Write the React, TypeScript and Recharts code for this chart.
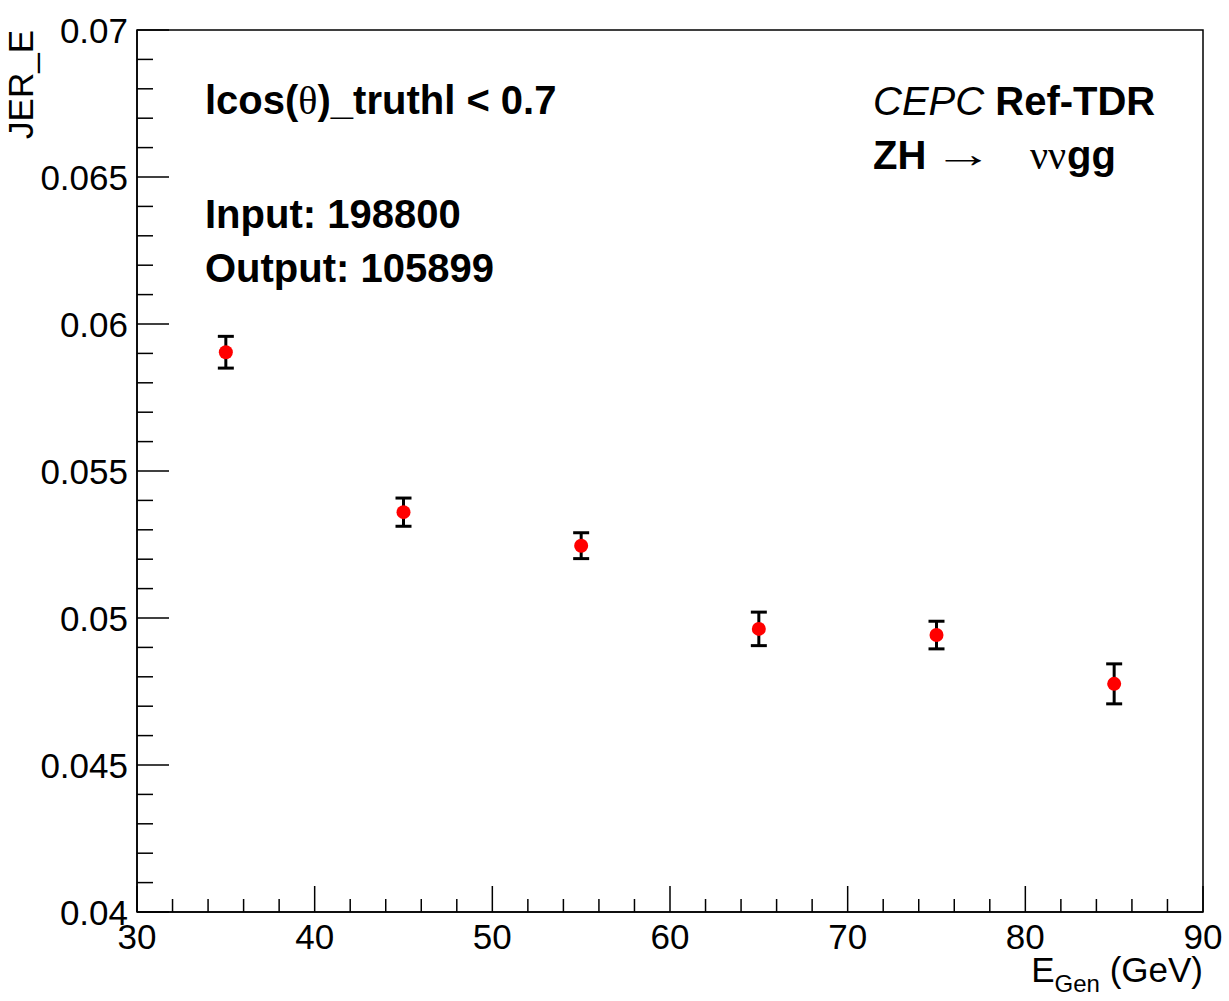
import React from "react";
import { ScatterChart, Scatter, XAxis, YAxis, ErrorBar, ReferenceArea } from "recharts";

// ---- data ----
const energies = [35, 45, 55, 65, 75, 85];
const jerValues = [0.05904, 0.0536, 0.05246, 0.04963, 0.04942, 0.04776];
const jerErrors = [0.00054, 0.00048, 0.00044, 0.00057, 0.00047, 0.00068];

const xMajorTicks = [30, 40, 50, 60, 70, 80, 90];
const xMinorTicks = [32, 34, 36, 38, 42, 44, 46, 48, 52, 54, 56, 58, 62, 64, 66, 68, 72, 74, 76, 78, 82, 84, 86, 88];
const yMajorTicks = [0.04, 0.045, 0.05, 0.055, 0.06, 0.065, 0.07];
const yMinorTicks = [
  0.041, 0.042, 0.043, 0.044, 0.046, 0.047, 0.048, 0.049, 0.051, 0.052, 0.053, 0.054,
  0.056, 0.057, 0.058, 0.059, 0.061, 0.062, 0.063, 0.064, 0.066, 0.067, 0.068, 0.069,
];

const data = energies.map((e, i) => ({ x: e, y: jerValues[i], err: jerErrors[i] }));

const W = 1229;
const H = 1001;
const FONT = "'Liberation Sans', Arial, Helvetica, sans-serif";
const SERIF = "'Liberation Serif', 'Times New Roman', serif";

const isIn = (arr: number[], v: number) => arr.some((a) => Math.abs(a - v) < 1e-9);
const fmtY = (v: number) => String(Number(v.toFixed(3)));

const Y_MARGIN = 9;
const YTick = (props: any) => {
  const { x, y, payload } = props;
  const axisX = x + Y_MARGIN;
  const major = isIn(yMajorTicks, payload.value);
  return (
    <g>
      <line x1={axisX} x2={axisX + (major ? 32 : 16)} y1={y} y2={y} stroke="#000" strokeWidth={1.5} />
      {major && (
        <text x={x} y={y} textAnchor="end" dominantBaseline="central" fontFamily={FONT} fontSize={35} fill="#000">
          {fmtY(payload.value)}
        </text>
      )}
    </g>
  );
};

const XTick = (props: any) => {
  const { x, y, payload } = props;
  const axisY = y;
  const major = isIn(xMajorTicks, payload.value);
  return (
    <g>
      <line x1={x} x2={x} y1={axisY} y2={axisY - (major ? 26 : 13)} stroke="#000" strokeWidth={1.5} />
      {major && (
        <text x={x} y={axisY + 37} textAnchor="middle" fontFamily={FONT} fontSize={35} fill="#000">
          {payload.value}
        </text>
      )}
    </g>
  );
};

const Dot = (props: any) => {
  const { cx, cy } = props;
  return <circle cx={cx} cy={cy} r={7} fill="#ff0000" />;
};

const ANN = 40;

export default function App() {
  return (
    <div style={{ position: "absolute", left: 0, top: 0, width: W, height: H, background: "#fff" }}>
      <ScatterChart width={W} height={H} margin={{ top: 30, right: 26, left: 0, bottom: 0 }}>
        <XAxis
          type="number"
          dataKey="x"
          domain={[30, 90]}
          ticks={[...xMajorTicks, ...xMinorTicks].sort((a, b) => a - b)}
          interval={0}
          tickSize={0}
          tickMargin={0}
          tick={<XTick />}
          height={89}
          axisLine={{ stroke: "#000", strokeWidth: 1.5 }}
          allowDataOverflow
        />
        <YAxis
          type="number"
          dataKey="y"
          domain={[0.04, 0.07]}
          ticks={[...yMajorTicks, ...yMinorTicks].sort((a, b) => a - b)}
          interval={0}
          tickSize={0}
          tickMargin={Y_MARGIN}
          tick={<YTick />}
          width={137}
          axisLine={{ stroke: "#000", strokeWidth: 1.5 }}
          allowDataOverflow
        />
        <ReferenceArea x1={30} x2={90} y1={0.04} y2={0.07} fill="none" stroke="#000" strokeWidth={1.5} />
        <Scatter data={data} shape={<Dot />} isAnimationActive={false}>
          <ErrorBar dataKey="err" direction="y" width={8} stroke="#000" strokeWidth={3} isAnimationActive={false} />
        </Scatter>
      </ScatterChart>
      <svg width={W} height={H} style={{ position: "absolute", left: 0, top: 0, pointerEvents: "none" }}>
        {/* Y title */}
        <text
          transform="translate(33,30) rotate(-90)"
          textAnchor="end"
          fontFamily={FONT}
          fontSize={35}
          fill="#000"
        >
          JER_E
        </text>
        {/* X title */}
        <text x={1203} y={982} textAnchor="end" fontFamily={FONT} fontSize={35} fill="#000">
          E<tspan fontSize={24} dy={10}>Gen</tspan>
          <tspan dy={-10}> (GeV)</tspan>
        </text>
        {/* left annotations */}
        <text x={205} y={114} fontFamily={FONT} fontSize={ANN} fontWeight="bold" fill="#000">
          lcos(<tspan fontFamily={SERIF} fontWeight="normal">θ</tspan>)_truthl &lt; 0.7
        </text>
        <text x={205} y={228} fontFamily={FONT} fontSize={ANN} fontWeight="bold" fill="#000">
          Input: 198800
        </text>
        <text x={205} y={282} fontFamily={FONT} fontSize={ANN} fontWeight="bold" fill="#000">
          Output: 105899
        </text>
        {/* right annotations */}
        <text x={873} y={115} fontFamily={FONT} fontSize={ANN} fill="#000">
          <tspan fontStyle="italic">CEPC</tspan>
          <tspan fontWeight="bold"> Ref-TDR</tspan>
        </text>
        <text x={873} y={169} fontFamily={FONT} fontSize={ANN} fontWeight="bold" fill="#000">
          ZH
        </text>
        <text
          x={933}
          y={167}
          fontFamily={SERIF}
          fontSize={38}
          fill="#000"
          textLength={60}
          lengthAdjust="spacingAndGlyphs"
        >
          →
        </text>
        <text x={1030} y={169} fontFamily={SERIF} fontSize={40} fill="#000">
          νν
        </text>
        <text x={1067} y={169} fontFamily={FONT} fontSize={ANN} fontWeight="bold" fill="#000">
          gg
        </text>
      </svg>
    </div>
  );
}
